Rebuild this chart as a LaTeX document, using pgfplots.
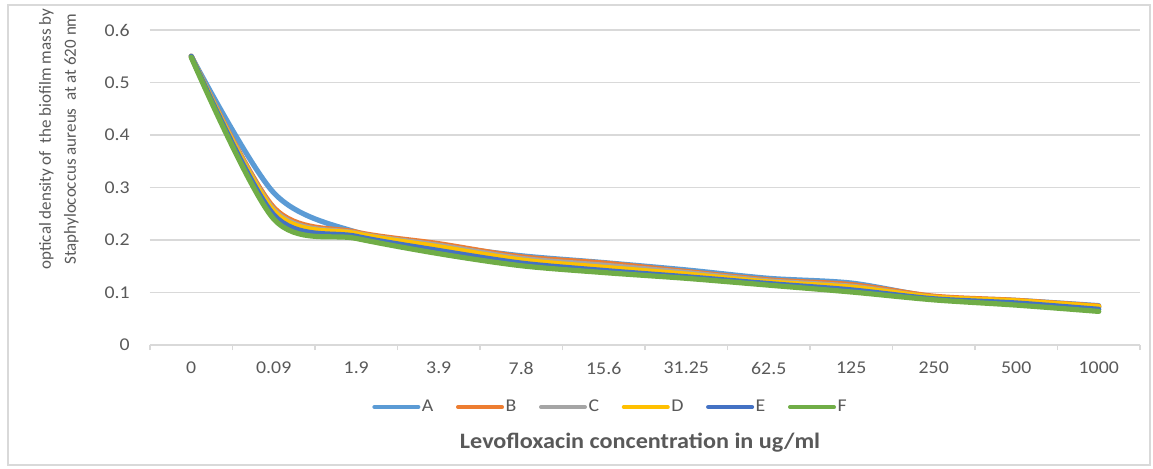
\documentclass[border=0pt]{standalone}
\usepackage{pgfplots}
\pgfplotsset{compat=1.18}
\usepackage{pgfplotstable}
\usepackage{fontspec}
\setmainfont{Carlito}[FakeStretch=1.1]
\newfontfamily\plainfont{Carlito}

\definecolor{serA}{HTML}{5B9BD5}
\definecolor{serB}{HTML}{ED7D31}
\definecolor{serC}{HTML}{A5A5A5}
\definecolor{serD}{HTML}{FFC000}
\definecolor{serE}{HTML}{4472C4}
\definecolor{serF}{HTML}{70AD47}
\definecolor{txt}{HTML}{595959}
\definecolor{gridc}{HTML}{D9D9D9}

% optical density per concentration step (x = category index)
\pgfplotstableread{
x  A     B     C     D     E     F
0  0.550 0.550 0.550 0.550 0.550 0.548
1  0.290 0.262 0.258 0.255 0.248 0.240
2  0.215 0.215 0.213 0.212 0.207 0.203
3  0.190 0.193 0.190 0.187 0.180 0.174
4  0.170 0.168 0.165 0.162 0.156 0.151
5  0.157 0.156 0.152 0.148 0.142 0.138
6  0.143 0.140 0.138 0.135 0.130 0.127
7  0.127 0.124 0.122 0.120 0.117 0.114
8  0.118 0.115 0.112 0.110 0.105 0.101
9  0.092 0.093 0.091 0.091 0.088 0.086
10 0.085 0.085 0.083 0.084 0.080 0.076
11 0.075 0.074 0.072 0.073 0.068 0.064
}\datatable

\begin{document}
\begin{tikzpicture}
\useasboundingbox (0,0) rectangle (576.5pt,234pt);
\draw[gridc, line width=0.8pt] (4pt,1.5pt) rectangle (575pt,231.5pt);
\begin{axis}[
  at={(75pt,61.5pt)}, anchor=south west,
  scale only axis,
  width=495pt, height=157.5pt,
  xmin=-0.5, xmax=11.5,
  ymin=0, ymax=0.6,
  xtick={0,...,11},
  xticklabels={0,0.09,1.9,3.9,7.8,15.6,31.25,62.5,125,250,500,1000},
  ytick={0,0.1,...,0.6},
  /pgf/number format/assume math mode=true,
  /pgf/number format/fixed,
  major tick length=0pt,
  axis x line*=bottom,
  axis y line*=left,
  x axis line style={gridc, line width=0.8pt, -},
  y axis line style={draw=none},
  ymajorgrids,
  grid style={gridc, line width=0.8pt},
  extra x ticks={-0.5,0.5,...,11.5},
  extra x tick labels={},
  extra x tick style={grid=none, major tick length=2.5pt, tick align=outside,
    tick style={gridc, line width=0.8pt}},
  xticklabel style={font=\fontsize{9}{10}\selectfont, text=txt, anchor=center, yshift=-11.5pt},
  yticklabel style={font=\fontsize{9}{10}\selectfont, text=txt, anchor=east, inner sep=0pt, xshift=-10pt},
  ylabel={optical density of\ \ the biofilm mass by\\Staphylococcus aureus\ \ at\ at 620 nm},
  ylabel style={at={(rel axis cs:-0.092,0.654)}, anchor=center, align=center,
    font=\plainfont\fontsize{8.5}{12.5}\selectfont, text=txt},
  xlabel={\bfseries Levofloxacin concentration in ug/ml},
  xlabel style={at={(rel axis cs:0.495,-0.311)}, anchor=center,
    font=\fontsize{11}{12}\selectfont, text=txt},
  legend columns=6,
  legend style={at={(rel axis cs:0.465,-0.197)}, anchor=center, draw=none,
    font=\fontsize{9}{10}\selectfont, text=txt, inner sep=0pt,
    nodes={inner sep=0.8pt},
    /tikz/every even column/.append style={column sep=10.5pt}},
  legend image code/.code={\draw[line width=2pt, line cap=round] (0pt,0pt) -- (22pt,0pt);},
  every axis plot/.append style={smooth, line width=2.6pt, line cap=round, no markers},
]
\addplot[serA] table[x=x, y=A] {\datatable};
\addplot[serB] table[x=x, y=B] {\datatable};
\addplot[serC] table[x=x, y=C] {\datatable};
\addplot[serD] table[x=x, y=D] {\datatable};
\addplot[serE] table[x=x, y=E] {\datatable};
\addplot[serF] table[x=x, y=F] {\datatable};
\legend{A,B,C,D,E,F}
\end{axis}
\end{tikzpicture}
\end{document}
